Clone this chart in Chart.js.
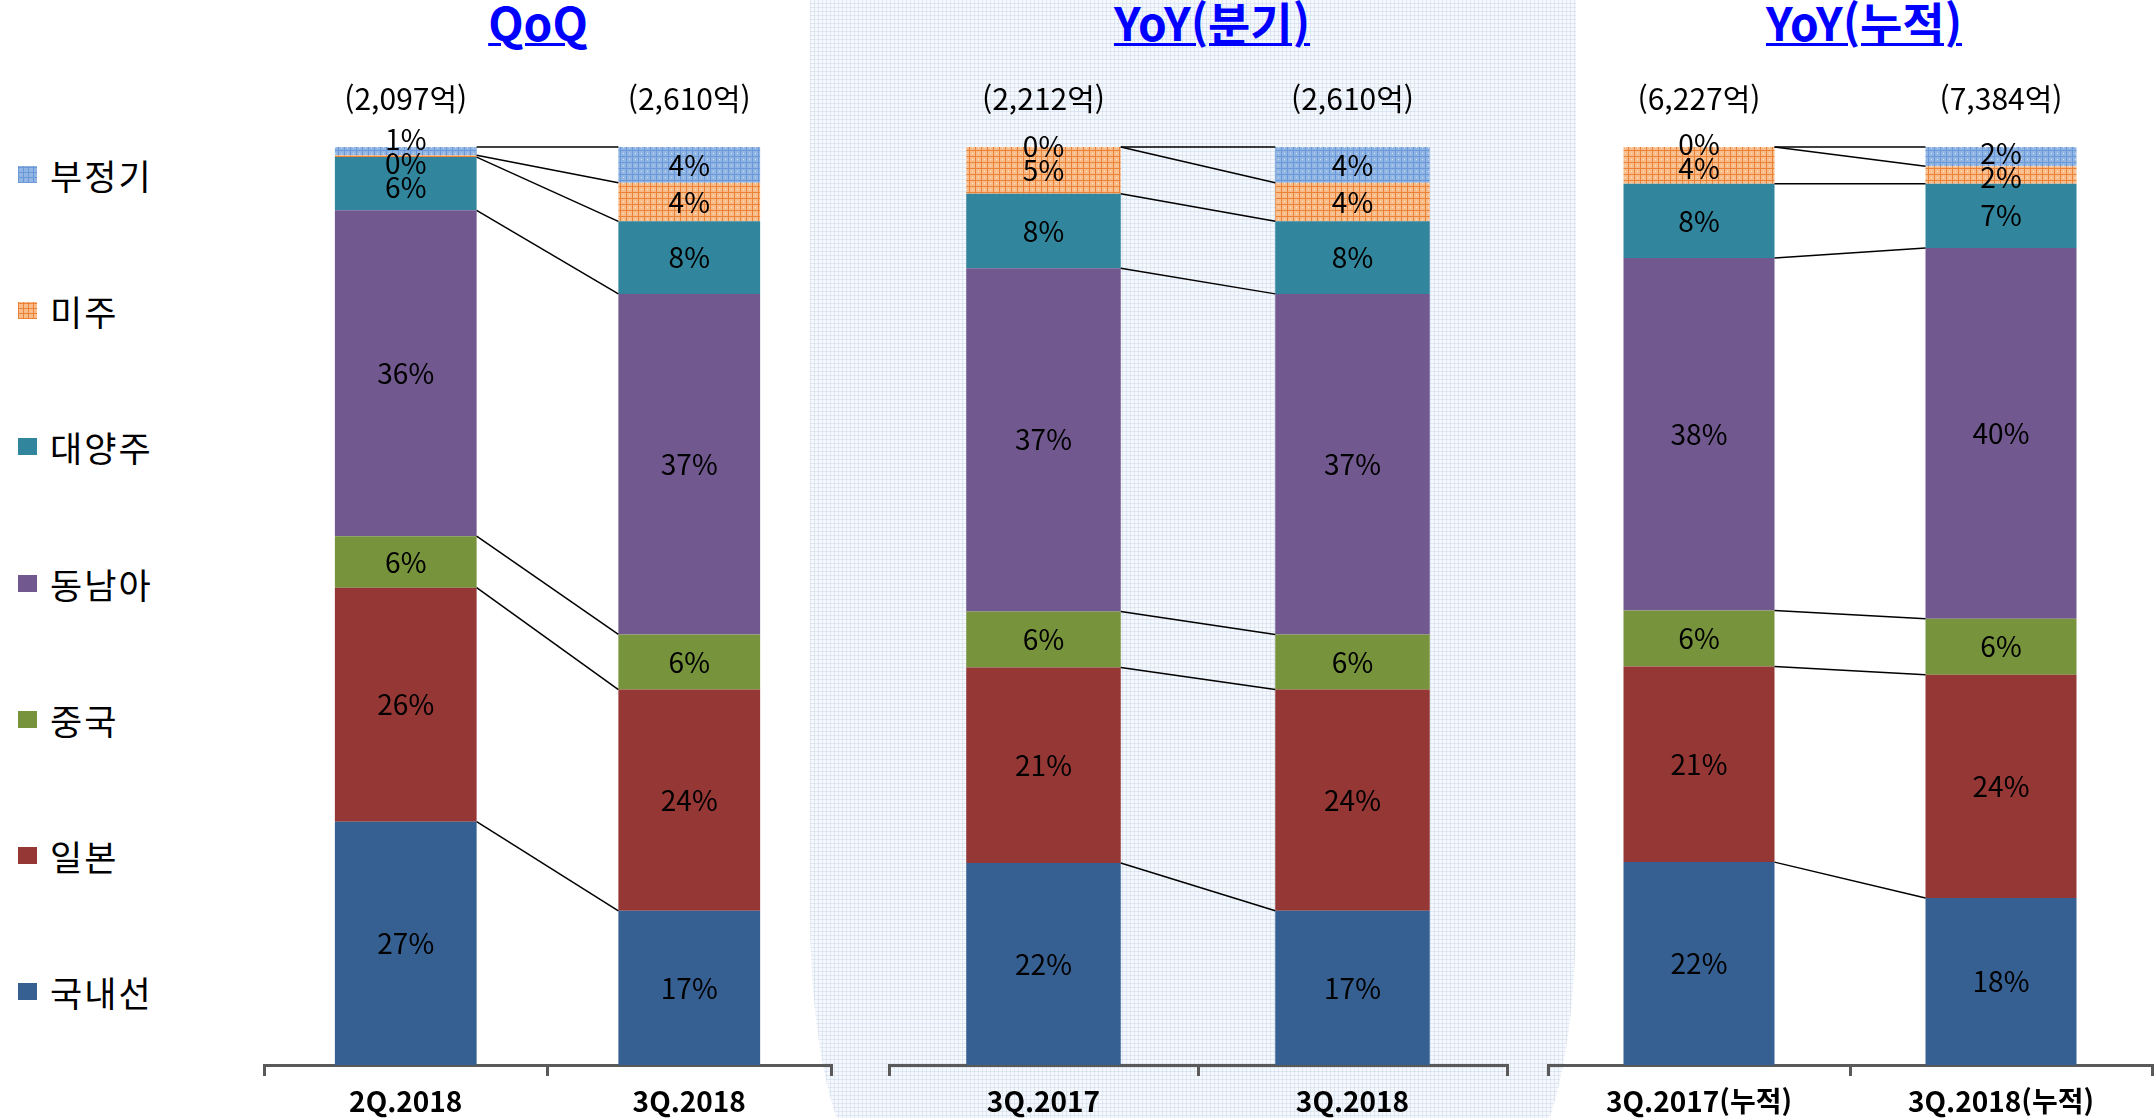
<!DOCTYPE html>
<html lang="ko">
<head>
<meta charset="utf-8">
<script src="https://cdn.jsdelivr.net/npm/chart.js@4.4.0/dist/chart.umd.min.js"></script>
<style>
  body {
    margin: 0;
    width: 2154px;
    height: 1118px;
    overflow: hidden;
    background: #fff;
    position: relative;
    font-family: "Noto Sans CJK KR", sans-serif;
  }
  .panel {
    position: absolute;
    left: 810px;
    top: -20px;
    width: 766px;
    height: 1180px;
    background-color: #f5f8fc;
    background-image:
      repeating-linear-gradient(0deg, rgba(205, 218, 236, 0.55) 0 1px, transparent 1px 4px),
      repeating-linear-gradient(90deg, rgba(205, 218, 236, 0.55) 0 1px, transparent 1px 4px);
    border-radius: 0 0 60px 60px / 0 0 250px 250px;
  }
  .title {
    position: absolute;
    top: -7px;
    transform: translateX(-50%);
    font-size: 46px;
    line-height: 56px;
    font-weight: 700;
    color: #0000ff;
    text-decoration: underline;
    text-decoration-thickness: 3px;
    white-space: nowrap;
  }
  .legend {
    position: absolute;
    left: 18px;
    top: 106px;
  }
  .legend div {
    height: 136.3px;
    display: flex;
    align-items: center;
    font-size: 35px;
    letter-spacing: 2px;
    color: #000;
  }
  .legend span.box {
    width: 19px;
    height: 17px;
    margin-right: 13px;
    display: inline-block;
  }
  .wrap { position: absolute; top: 0; }
</style>
</head>
<body>
<div class="panel"></div>

<div class="title" style="left:538px">QoQ</div>
<div class="title" style="left:1212px">YoY(분기)</div>
<div class="title" style="left:1864px">YoY(누적)</div>

<div class="legend" id="legend"></div>

<div class="wrap" style="left:254px"><canvas id="c1" width="587" height="1118"></canvas></div>
<div class="wrap" style="left:879px"><canvas id="c2" width="638" height="1118"></canvas></div>
<div class="wrap" style="left:1538px"><canvas id="c3" width="624" height="1118"></canvas></div>

<script>
// categories per panel
const qoqLabels = ["2Q.2018", "3Q.2018"];
const yoyQLabels = ["3Q.2017", "3Q.2018"];
const yoyCumLabels = ["3Q.2017(누적)", "3Q.2018(누적)"];

// totals (억원), one per bar, left to right
const totals = [2097, 2610, 2212, 2610, 6227, 7384];

// share (%) per region, one per bar, left to right
const domestic = [26.5, 16.8, 22.0, 16.8, 22.1, 18.2]; // 국내선
const japan = [25.5, 24.1, 21.3, 24.1, 21.3, 24.3]; // 일본
const china = [5.6, 6.0, 6.1, 6.0, 6.1, 6.1]; // 중국
const seAsia = [35.5, 37.1, 37.4, 37.1, 38.4, 40.4]; // 동남아
const oceania = [5.8, 7.9, 8.1, 7.9, 8.1, 7.0]; // 대양주
const americas = [0.2, 4.2, 5.1, 4.2, 4.0, 1.9]; // 미주
const charter = [0.9, 3.9, 0.0, 3.9, 0.0, 2.1]; // 부정기

const FONT = '"Noto Sans CJK KR", sans-serif';

function makePattern(base, line, dot) {
  const c = document.createElement("canvas");
  c.width = 6;
  c.height = 6;
  const g = c.getContext("2d");
  g.fillStyle = base;
  g.fillRect(0, 0, 6, 6);
  g.fillStyle = line;
  g.fillRect(0, 0, 6, 1);
  g.fillRect(0, 0, 1, 6);
  g.fillStyle = dot;
  g.fillRect(3, 3, 1, 1);
  return g.createPattern(c, "repeat");
}

// bottom to top stacking order
const series = [
  { name: "국내선", values: domestic, color: "#366092" },
  { name: "일본", values: japan, color: "#953735" },
  { name: "중국", values: china, color: "#77933c" },
  { name: "동남아", values: seAsia, color: "#71588f" },
  { name: "대양주", values: oceania, color: "#31859c" },
  { name: "미주", values: americas, color: makePattern("#f9bd8c", "#ea8238", "#fde2c9"),
    css: "repeating-linear-gradient(0deg,#ea8238 0 1px,transparent 1px 5px),repeating-linear-gradient(90deg,#ea8238 0 1px,transparent 1px 5px),#f9bd8c" },
  { name: "부정기", values: charter, color: makePattern("#92b6e4", "#6a98d8", "#cfe0f4"),
    css: "repeating-linear-gradient(0deg,#6a98d8 0 1px,transparent 1px 5px),repeating-linear-gradient(90deg,#6a98d8 0 1px,transparent 1px 5px),#92b6e4" },
];

// legend, top to bottom
const legend = document.getElementById("legend");
series.slice().reverse().forEach((s) => {
  const row = document.createElement("div");
  const box = document.createElement("span");
  box.className = "box";
  box.style.background = s.css || s.color;
  row.appendChild(box);
  row.appendChild(document.createTextNode(s.name));
  legend.appendChild(row);
});

// push overlapping labels apart (sorted top to bottom)
function spread(items, gap) {
  for (let it = 0; it < 30; it++) {
    for (let k = 1; k < items.length; k++) {
      const d = items[k].y - items[k - 1].y;
      if (d < gap) {
        const m = (gap - d) / 2;
        items[k - 1].y -= m;
        items[k].y += m;
      }
    }
  }
}

const segmentPlugin = {
  id: "segments",
  afterDatasetsDraw(chart) {
    const ctx = chart.ctx;
    const metas = chart.data.datasets.map((d, i) => chart.getDatasetMeta(i));
    ctx.save();

    // connector lines between the two bars
    ctx.strokeStyle = "#000";
    ctx.lineWidth = 1.5;
    metas.forEach((meta) => {
      const a = meta.data[0].getProps(["x", "y", "width"], true);
      const b = meta.data[1].getProps(["x", "y", "width"], true);
      ctx.beginPath();
      ctx.moveTo(a.x + a.width / 2, a.y);
      ctx.lineTo(b.x - b.width / 2, b.y);
      ctx.stroke();
    });

    // percentage labels
    ctx.fillStyle = "#000";
    ctx.font = "28px " + FONT;
    ctx.textAlign = "center";
    ctx.textBaseline = "middle";
    metas[0].data.forEach((el0, j) => {
      const items = [];
      metas.forEach((meta, i) => {
        const p = meta.data[j].getProps(["x", "y", "base"], true);
        const v = chart.data.datasets[i].data[j];
        items.push({ x: p.x, y: (p.y + p.base) / 2, text: Math.round(v) + "%" });
      });
      items.reverse();
      spread(items, 24);
      items.forEach((t) => ctx.fillText(t.text, t.x, t.y));
    });

    // totals above bars
    ctx.font = "30px " + FONT;
    const tot = chart.options.plugins.segments.totals;
    metas[0].data.forEach((el, j) => {
      ctx.fillText("(" + tot[j].toLocaleString("en-US") + "억)", el.x, 99);
    });
    ctx.restore();
  },
};

function makeChart(id, labels, idx) {
  return new Chart(document.getElementById(id), {
    type: "bar",
    data: {
      labels: labels,
      datasets: series.map((s) => ({
        label: s.name,
        data: idx.map((k) => s.values[k]),
        backgroundColor: s.color,
        borderWidth: 0,
        categoryPercentage: 1,
        barPercentage: 0.5,
      })),
    },
    options: {
      responsive: false,
      animation: false,
      layout: { padding: { top: 147, left: 10, right: 10, bottom: 0 } },
      plugins: {
        legend: { display: false },
        tooltip: { enabled: false },
        segments: { totals: idx.map((k) => totals[k]) },
      },
      scales: {
        x: {
          stacked: true,
          grid: {
            offset: true,
            drawOnChartArea: false,
            drawTicks: true,
            tickLength: 11,
            color: "#595959",
            lineWidth: 3,
          },
          border: { display: true, color: "#595959", width: 3 },
          ticks: {
            color: "#000",
            padding: 9,
            font: { family: FONT, size: 28, weight: "bold" },
          },
          afterFit(scale) {
            scale.height = 53;
          },
        },
        y: { stacked: true, display: false, min: 0, max: 100 },
      },
    },
    plugins: [segmentPlugin],
  });
}

makeChart("c1", qoqLabels, [0, 1]);
makeChart("c2", yoyQLabels, [2, 3]);
makeChart("c3", yoyCumLabels, [4, 5]);
</script>
</body>
</html>
